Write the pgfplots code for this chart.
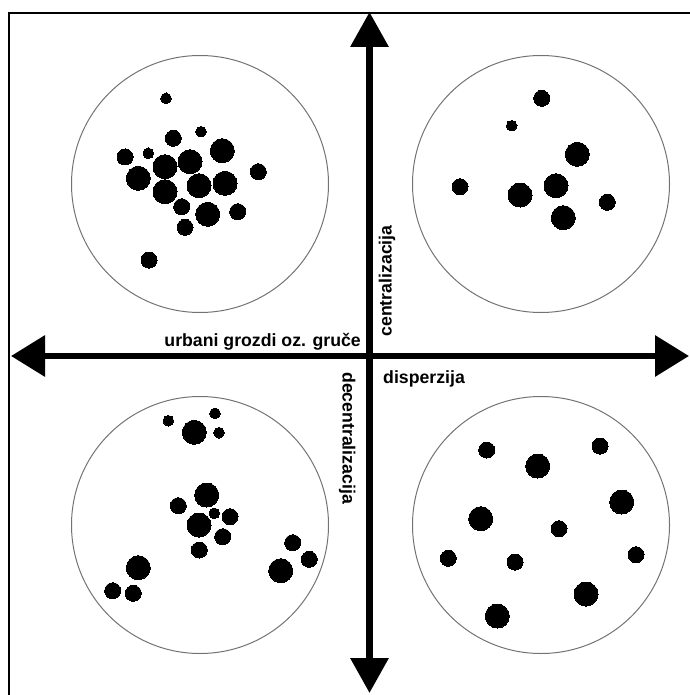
\documentclass[border=0pt]{standalone}
\usepackage{pgfplots}
\pgfplotsset{compat=1.18}
\usetikzlibrary{arrows.meta}
\usepackage{fontspec}
\setmainfont{Liberation Sans}
\newcommand{\lbl}{\fontsize{17.7}{20}\selectfont\bfseries}
\begin{document}
\begin{tikzpicture}
\useasboundingbox (0,0) rectangle (689pt,695pt);
\begin{axis}[
  at={(0,0)}, anchor=south west,
  width=689pt, height=695pt, scale only axis,
  xmin=0, xmax=689, ymin=0, ymax=695, y dir=reverse,
  hide axis, clip=false,
]
% frame
\addplot[black, line width=1.3pt] coordinates {(9,720) (9,13) (720,13)};
% big circles
\addplot[only marks, mark=o, mark size=128.5pt, mark options={draw=black!55, line width=1pt}]
  coordinates {(200,184) (541,184) (200,525) (541,525)};
% large dots
\addplot[only marks, mark=*, mark size=12pt, mark options={fill=black, draw=black, line width=0pt}]
  coordinates {(222.3,150.7) (165,166.7) (190,161.7) (138.3,178.3) (165,191.7) (199,185.7) (225,183.3) (207.7,214.3)
  (577.3,154.3) (520,195) (556,185.7) (563.3,217.7)
  (194.3,432.3) (206.7,495) (199,525) (138.3,567.7) (280.7,570.7)
  (537.7,466) (621.7,502) (480.7,518.7) (586,594) (497.3,616)};
% medium dots
\addplot[only marks, mark=*, mark size=8pt, mark options={fill=black, draw=black, line width=0pt}]
  coordinates {(173.3,138.3) (125,157) (258.3,171.7) (181.7,206.7) (237.7,211.7) (185,227.3) (149,260)
  (541.7,98.3) (460,186.7) (607.3,202.3)
  (178.3,505.7) (230,516.7) (222.7,536.7) (199.3,550) (112.7,590.7) (133.3,593.3) (292.7,542.7) (309.3,559.3)
  (486.7,450) (600,446) (559,528.7) (448.3,558.3) (515,562) (636,554.7)};
% small dots
\addplot[only marks, mark=*, mark size=5.3pt, mark options={fill=black, draw=black, line width=0pt}]
  coordinates {(166,98.3) (201,131.7) (148.3,153.3)
  (511.7,125.7)
  (168.3,420.7) (215,413.3) (219,432.7) (214.3,513.3)};
% arrows
\addplot[black, line width=6.5pt, {Triangle[length=34pt,width=40pt]}-{Triangle[length=34pt,width=40pt]}]
  coordinates {(11,356) (689,356)};
\addplot[black, line width=6.5pt, {Triangle[length=35pt,width=37pt]}-{Triangle[length=35pt,width=37pt]}]
  coordinates {(369.5,12) (369.5,693)};
% labels
\node[anchor=base east, inner sep=0pt, font=\lbl] at (axis cs:361,346) {urbani grozdi oz. gruče};
\node[anchor=base west, inner sep=0pt, font=\lbl] at (axis cs:383,383) {disperzija};
\node[anchor=base west, inner sep=0pt, font=\lbl, rotate=90] at (axis cs:391.7,336.7) {centralizacija};
\node[anchor=base west, inner sep=0pt, font=\lbl, rotate=-90] at (axis cs:342.5,372) {decentralizacija};
\end{axis}
\end{tikzpicture}
\end{document}
